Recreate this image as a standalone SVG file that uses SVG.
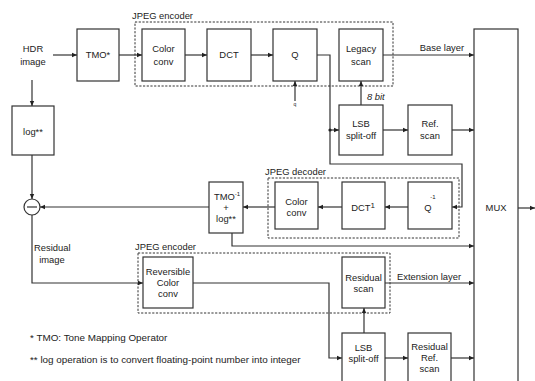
<svg xmlns="http://www.w3.org/2000/svg" width="535" height="381" viewBox="0 0 535 381">
<style>
.box{fill:#fff;stroke:#333;stroke-width:1.2}
.dash{fill:none;stroke:#333;stroke-width:1;stroke-dasharray:2.2,1.5}
.ln{fill:none;stroke:#333;stroke-width:1.2}
.t{font-family:"Liberation Sans",Arial,Helvetica,sans-serif;font-size:9.4px;fill:#222;text-anchor:middle}
.l{text-anchor:start}
.fn{font-size:9.9px}
</style>
<defs>
<marker id="ah" markerWidth="6" markerHeight="6" refX="5" refY="3" orient="auto" markerUnits="userSpaceOnUse">
<path d="M0,0.8 L5,3 L0,5.2 z" fill="#222"/>
</marker>
</defs>
<rect width="535" height="381" fill="#fff"/>
<g id="groups">
<rect class="dash" x="135" y="22" width="258" height="64"/>
<text class="t l" x="132" y="19">JPEG encoder</text>
<rect class="dash" x="268" y="178" width="191" height="60"/>
<text class="t l" x="265" y="175">JPEG decoder</text>
<rect class="dash" x="138" y="253" width="252" height="60"/>
<text class="t l" x="135" y="250">JPEG encoder</text>
</g>
<g id="connectors">
<path class="ln" d="M53,55 H77" marker-end="url(#ah)"/>
<path class="ln" d="M32,80 V106" marker-end="url(#ah)"/>
<path class="ln" d="M119,55 H142" marker-end="url(#ah)"/>
<path class="ln" d="M185,55 H207" marker-end="url(#ah)"/>
<path class="ln" d="M251,55 H273" marker-end="url(#ah)"/>
<path class="ln" d="M317,55 H330 V164 H462 V207 H452" marker-end="url(#ah)"/>
<path class="ln" d="M330,130 H339" marker-end="url(#ah)"/>
<circle cx="330" cy="130" r="1.6" fill="#222"/>
<path class="ln" d="M295,101 V81" marker-end="url(#ah)"/>
<path class="ln" d="M361,105 V81" marker-end="url(#ah)"/>
<path class="ln" d="M383,55 H474" marker-end="url(#ah)"/>
<path class="ln" d="M383,130 H408" marker-end="url(#ah)"/>
<path class="ln" d="M452,130 H474" marker-end="url(#ah)"/>
<path class="ln" d="M408,207 H385" marker-end="url(#ah)"/>
<path class="ln" d="M342,207 H318" marker-end="url(#ah)"/>
<path class="ln" d="M275,207 H243" marker-end="url(#ah)"/>
<path class="ln" d="M209,207 H40" marker-end="url(#ah)"/>
<path class="ln" d="M32,155 V199" marker-end="url(#ah)"/>
<path class="ln" d="M32,215 V283 H143" marker-end="url(#ah)"/>
<path class="ln" d="M232,233 V246 H474" marker-end="url(#ah)"/>
<path class="ln" d="M193,283 H329 V358 H342" marker-end="url(#ah)"/>
<path class="ln" d="M364,333 V308" marker-end="url(#ah)"/>
<path class="ln" d="M385,283 H474" marker-end="url(#ah)"/>
<path class="ln" d="M385,358 H408" marker-end="url(#ah)"/>
<path class="ln" d="M451,358 H474" marker-end="url(#ah)"/>
<path class="ln" d="M518,208 H535" marker-end="url(#ah)"/>
</g>
<g id="labels">
<text class="t" x="295" y="106" style="font-size:5px">q</text>
<text class="t l" x="367" y="100" font-style="italic">8 bit</text>
<text class="t" x="442" y="51">Base layer</text>
<text class="t" x="429" y="280">Extension layer</text>
<text class="t l" x="34" y="251">Residual</text>
<text class="t" x="52" y="263">image</text>
<text class="t l fn" x="30" y="341">* TMO: Tone Mapping Operator</text>
<text class="t l fn" x="30" y="363">** log operation is to convert floating-point number into integer</text>
</g>
<g id="hdr"><text class="t" x="33" y="52">HDR</text><text class="t" x="33" y="65">image</text></g>
<g id="tmo"><rect class="box" x="77" y="29" width="42" height="52"/><text class="t" x="98" y="58">TMO*</text></g>
<g id="colorconv"><rect class="box" x="142" y="29" width="43" height="52"/><text class="t" x="163.5" y="52">Color</text><text class="t" x="163.5" y="65">conv</text></g>
<g id="dct"><rect class="box" x="207" y="29" width="44" height="52"/><text class="t" x="229" y="58">DCT</text></g>
<g id="q"><rect class="box" x="273" y="29" width="44" height="52"/><text class="t" x="295" y="58">Q</text></g>
<g id="legacy"><rect class="box" x="339" y="29" width="44" height="52"/><text class="t" x="361" y="52">Legacy</text><text class="t" x="361" y="65">scan</text></g>
<g id="mux"><rect class="box" x="474" y="29" width="44" height="360"/><text class="t" x="496" y="211">MUX</text></g>
<g id="log"><rect class="box" x="12" y="106" width="42" height="49"/><text class="t" x="33" y="135">log**</text></g>
<g id="lsb1"><rect class="box" x="339" y="105" width="44" height="50"/><text class="t" x="361" y="127">LSB</text><text class="t" x="361" y="139">split-off</text></g>
<g id="refscan"><rect class="box" x="408" y="105" width="44" height="50"/><text class="t" x="430" y="127">Ref.</text><text class="t" x="430" y="139">scan</text></g>
<g id="colorconvdec"><rect class="box" x="275" y="182" width="43" height="47"/><text class="t" x="296.5" y="205">Color</text><text class="t" x="296.5" y="216">conv</text></g>
<g id="dctinv"><rect class="box" x="342" y="182" width="43" height="47"/><text class="t" x="363" y="211">DCT<tspan dy="-3" font-size="8">1</tspan></text></g>
<g id="qinv"><rect class="box" x="408" y="182" width="44" height="47"/><text class="t" x="428" y="211">Q</text><text class="t" x="433" y="199" style="font-size:6px">-1</text></g>
<g id="tmoinv"><rect class="box" x="209" y="182" width="34" height="51"/><text class="t" x="227" y="200">TMO<tspan dy="-4" font-size="6">-1</tspan></text><text class="t" x="226" y="211">+</text><text class="t" x="226" y="222">log**</text></g>
<g id="minus"><circle cx="32" cy="207" r="8" fill="#fff" stroke="#333" stroke-width="1.2"/><path d="M27,207 H37" stroke="#333" stroke-width="1.2"/></g>
<g id="revcc"><rect class="box" x="143" y="257" width="50" height="51"/><text class="t" x="168" y="275">Reversible</text><text class="t" x="168" y="286">Color</text><text class="t" x="168" y="297">conv</text></g>
<g id="resscan"><rect class="box" x="342" y="257" width="43" height="51"/><text class="t" x="363.5" y="281">Residual</text><text class="t" x="363.5" y="292">scan</text></g>
<g id="lsb2"><rect class="box" x="342" y="333" width="43" height="60"/><text class="t" x="363.5" y="351">LSB</text><text class="t" x="363.5" y="362">split-off</text></g>
<g id="resref"><rect class="box" x="408" y="333" width="43" height="60"/><text class="t" x="429.5" y="350">Residual</text><text class="t" x="429.5" y="361">Ref.</text><text class="t" x="429.5" y="372">scan</text></g>
</svg>
